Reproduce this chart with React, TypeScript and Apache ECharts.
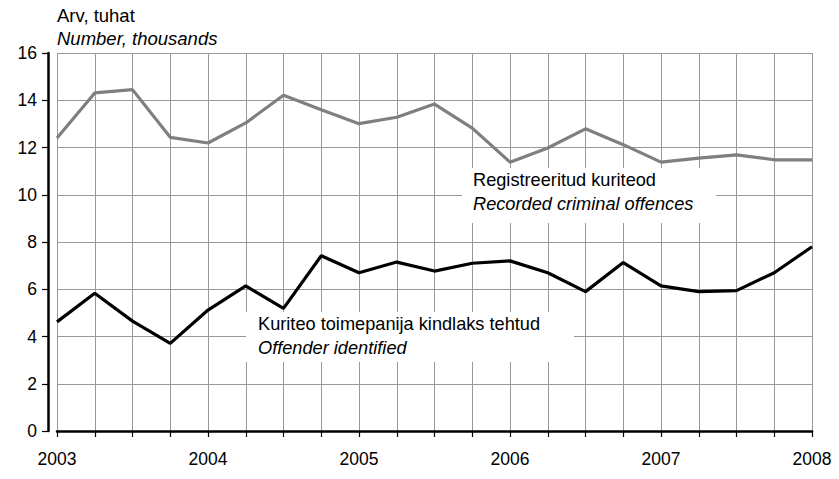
import React, { useEffect, useRef } from "react";
import * as echarts from "echarts";

const quarters: string[] = [
  "2003", "2003Q2", "2003Q3", "2003Q4",
  "2004", "2004Q2", "2004Q3", "2004Q4",
  "2005", "2005Q2", "2005Q3", "2005Q4",
  "2006", "2006Q2", "2006Q3", "2006Q4",
  "2007", "2007Q2", "2007Q3", "2007Q4",
  "2008",
];

const recordedOffences: number[] = [
  12.4, 14.31, 14.45, 12.43, 12.19, 13.04, 14.21, 13.6, 13.01, 13.28,
  13.84, 12.82, 11.38, 11.98, 12.79, 12.12, 11.38, 11.55, 11.69, 11.48, 11.48,
];

const offenderIdentified: number[] = [
  4.62, 5.83, 4.65, 3.71, 5.12, 6.14, 5.19, 7.42, 6.7, 7.15,
  6.77, 7.1, 7.2, 6.7, 5.9, 7.13, 6.14, 5.9, 5.94, 6.7, 7.8,
];

const FONT = "'Liberation Sans', Arial, Helvetica, sans-serif";

export default function App() {
  const ref = useRef<HTMLDivElement>(null);
  useEffect(() => {
    if (!ref.current) return;
    const chart = echarts.init(ref.current, undefined, { renderer: "svg" });
    chart.setOption({
      animation: false,
      backgroundColor: "#ffffff",
      textStyle: { fontFamily: FONT },
      grid: { left: 57, right: 27, top: 53, bottom: 48, containLabel: false },
      xAxis: {
        type: "category",
        data: quarters,
        boundaryGap: false,
        offset: 10,
        axisLine: { show: true, lineStyle: { color: "#000", width: 2.5 } },
        axisTick: { show: true, interval: 0, length: 6, lineStyle: { color: "#000", width: 1.2 } },
        axisLabel: {
          interval: (i: number) => i % 4 === 0,
          formatter: (v: string) => v.slice(0, 4),
          color: "#000",
          fontSize: 17.5,
          fontFamily: FONT,
          margin: 9,
        },
        splitLine: { show: true, interval: 0, lineStyle: { color: "#999", width: 1 } },
      },
      yAxis: {
        type: "value",
        min: 0,
        max: 16,
        interval: 2,
        offset: 9,
        axisLine: { show: true, lineStyle: { color: "#000", width: 2.5 } },
        axisTick: { show: true, length: 6, lineStyle: { color: "#000", width: 1.2 } },
        axisLabel: { color: "#000", fontSize: 17.5, fontFamily: FONT, margin: 11 },
        splitLine: { show: true, lineStyle: { color: "#999", width: 1 } },
      },
      series: [
        {
          name: "Registreeritud kuriteod",
          type: "line",
          data: recordedOffences,
          symbol: "none",
          lineStyle: { color: "#7f7f7f", width: 3.2 },
          z: 5,
        },
        {
          name: "Kuriteo toimepanija kindlaks tehtud",
          type: "line",
          data: offenderIdentified,
          symbol: "none",
          lineStyle: { color: "#000", width: 3.2 },
          z: 5,
        },
      ],
      graphic: [
        {
          type: "text",
          left: 57,
          top: 6,
          style: { text: "Arv, tuhat", fontSize: 18.5, fontFamily: FONT, fill: "#000" },
        },
        {
          type: "text",
          left: 57,
          top: 29,
          style: { text: "Number, thousands", fontSize: 18.5, fontStyle: "italic", fontFamily: FONT, fill: "#000" },
        },
        {
          type: "rect",
          shape: { x: 462, y: 168, width: 254, height: 55 },
          style: { fill: "#fff" },
          z: 3,
        },
        {
          type: "text",
          x: 473,
          y: 171,
          z: 4,
          style: { text: "Registreeritud kuriteod", fontSize: 18.2, fontFamily: FONT, fill: "#000" },
        },
        {
          type: "text",
          x: 473,
          y: 195,
          z: 4,
          style: { text: "Recorded criminal offences", fontSize: 18.2, fontStyle: "italic", fontFamily: FONT, fill: "#000" },
        },
        {
          type: "rect",
          shape: { x: 246, y: 312, width: 328, height: 50 },
          style: { fill: "#fff" },
          z: 3,
        },
        {
          type: "text",
          x: 258,
          y: 315,
          z: 4,
          style: { text: "Kuriteo toimepanija kindlaks tehtud", fontSize: 18.2, fontFamily: FONT, fill: "#000" },
        },
        {
          type: "text",
          x: 258,
          y: 339,
          z: 4,
          style: { text: "Offender identified", fontSize: 18.2, fontStyle: "italic", fontFamily: FONT, fill: "#000" },
        },
      ],
    });
    return () => chart.dispose();
  }, []);
  return <div ref={ref} style={{ width: 839, height: 479, position: "absolute", left: 0, top: 0 }} />;
}
